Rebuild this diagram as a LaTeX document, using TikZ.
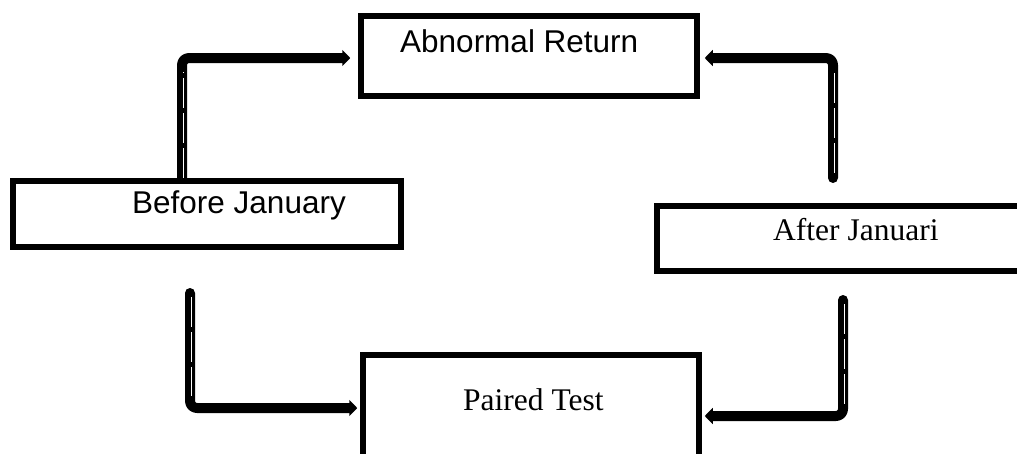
\documentclass[tikz,border=0pt]{standalone}
\usepackage{fontspec}
\setmainfont{Liberation Serif}
\newfontfamily\arialfont{Liberation Sans}
\usetikzlibrary{arrows.meta}
\begin{document}
\begin{tikzpicture}[x=1pt,y=-1pt,
  box/.style={draw=black, line width=5.5pt, inner sep=0pt},
  lbl/.style={anchor=base west, inner sep=0pt, font=\fontsize{31.5}{38}\selectfont},
  conn/.style={draw=black, line width=10pt, line cap=round, line join=round,
    rounded corners=7pt, -{Triangle[length=8pt,width=16pt]}},
  stripe/.style={draw=white, line width=3pt, dash pattern=on 30pt off 5pt},
  core/.style={draw=black, line width=1.6pt}]
\clip (0,0) rectangle (1017,453);
\fill[white] (0,0) rectangle (1017,453);

% boxes
\node[box, minimum width=336pt, minimum height=80pt]  (ar) at (529,56)    {};
\node[box, minimum width=388pt, minimum height=66pt]  (bj) at (207,214)   {};
\node[box, minimum width=383pt, minimum height=65pt]  (aj) at (848.5,238.5) {};
\node[box, minimum width=336pt, minimum height=114pt] (pt) at (531,412)   {};

% labels
\node[lbl, font=\arialfont\fontsize{31.5}{38}\selectfont] (arT) at (400,52)  {Abnormal Return};
\node[lbl, font=\arialfont\fontsize{31.5}{38}\selectfont] (bjT) at (132,213) {Before January};
\node[lbl] (ajT) at (773,240) {After Januari};
\node[lbl] (ptT) at (463,410) {Paired Test};

% free ends of the connectors
\coordinate (c1) at (182,58);
\coordinate (c2) at (833,178);
\coordinate (c3) at (190,293);
\coordinate (c4) at (843,300);

% connectors
\draw[conn, shorten >=8pt] (bj.north -| c1) |- ([yshift=-2pt]ar.west);
\draw[conn, shorten >=5pt] (c2) |- ([yshift=-2pt]ar.east);
\draw[conn, shorten >=3pt] (c3) |- ([yshift=4pt]pt.west);
\draw[conn, shorten >=3pt] (c4) |- ([yshift=-4pt]pt.east);

% double-line stripes on the vertical runs
\coordinate (s1a) at (182,178); \coordinate (s1b) at (182,72);
\coordinate (s2a) at (833,173); \coordinate (s2b) at (833,72);
\coordinate (s3a) at (190,297); \coordinate (s3b) at (190,396);
\coordinate (s4a) at (843,304); \coordinate (s4b) at (843,404);
\foreach \a/\b in {s1a/s1b, s2a/s2b, s3a/s3b, s4a/s4b}{
  \draw[stripe] (\a) -- (\b);
  \draw[core] (\a) -- (\b);
}
\end{tikzpicture}
\end{document}
